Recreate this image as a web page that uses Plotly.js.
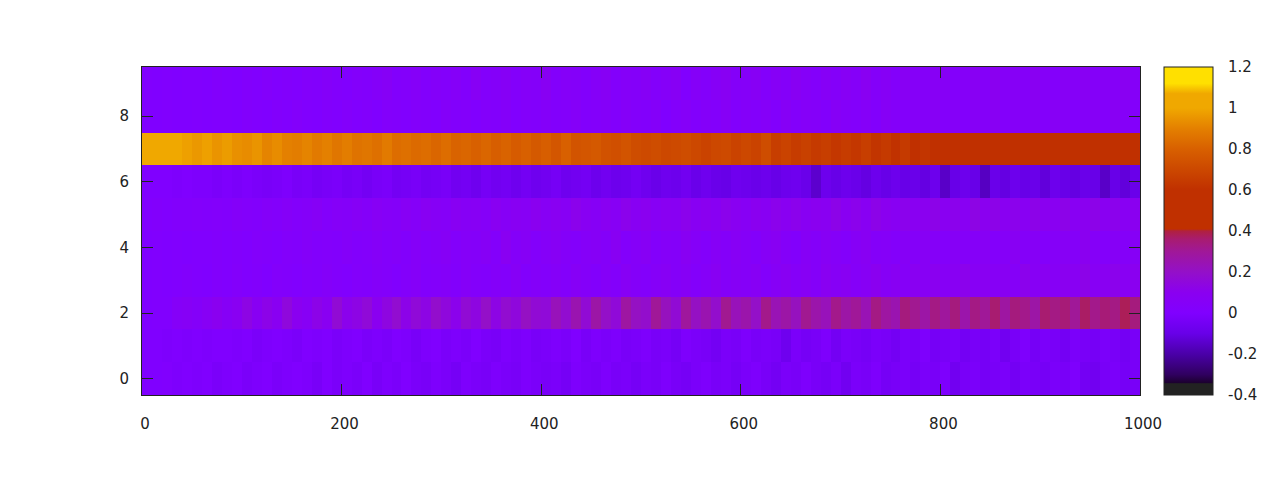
<!DOCTYPE html>
<html><head><meta charset="utf-8">
<script src="https://cdn.plot.ly/plotly-3.0.1.min.js"></script>
<style>html,body{margin:0;padding:0;background:#fff}</style></head>
<body><div id="chart" style="width:1280px;height:480px"></div>
<script>
const row0=[.00,.00,.01,-.01,.00,-.01,.00,-.02,-.01,.00,-.02,-.01,.00,-.02,-.01,.00,-.01,-.03,.00,-.02,-.01,-.02,.00,-.03,-.01,-.02,.00,-.02,-.03,-.01,-.02,-.04,-.01,-.02,-.03,-.01,-.02,-.03,-.01,-.02,-.03,-.02,-.04,-.01,-.02,-.03,-.01,-.03,-.02,-.04,-.02,-.03,-.01,-.03,-.04,-.02,-.01,-.03,-.02,-.04,-.02,-.01,-.03,-.05,-.02,-.03,-.01,-.03,-.04,-.02,-.06,-.02,-.03,-.01,-.04,-.03,-.02,-.04,-.02,-.03,-.01,-.06,-.03,-.02,-.04,-.03,-.02,-.05,-.02,-.03,-.04,-.02,-.03,-.01,-.05,-.06,-.03,-.02,-.04,-.03];
const row1=[.00,.00,-.01,.00,-.01,.00,-.01,.00,.00,-.01,.00,-.02,-.01,.00,-.01,-.02,.00,-.01,.00,-.02,-.01,.00,-.02,-.01,-.02,.00,-.01,-.03,-.01,.00,-.02,-.01,-.02,.00,-.02,-.03,-.01,-.02,-.01,-.03,-.02,-.01,-.02,.00,-.03,-.01,-.02,-.01,-.03,-.02,-.01,-.03,-.02,-.04,-.01,-.02,-.03,-.05,-.02,-.03,-.01,-.03,-.02,-.03,-.07,-.02,-.04,-.03,-.01,-.05,-.02,-.03,-.04,-.02,-.03,-.05,-.02,-.03,-.01,-.04,-.03,-.02,-.05,-.03,-.04,-.02,-.06,-.03,-.01,-.04,-.02,-.03,-.05,-.02,-.03,-.04,-.02,-.03,-.05,-.03];
const row2=[.00,.01,.01,.05,.06,.04,.07,.10,.06,.09,.13,.08,.12,.09,.15,.10,.07,.12,.09,.17,.11,.13,.16,.10,.14,.18,.12,.16,.13,.19,.15,.11,.17,.14,.20,.13,.18,.15,.21,.17,.16,.23,.18,.25,.17,.27,.20,.16,.28,.21,.19,.30,.22,.17,.29,.21,.25,.19,.31,.23,.26,.20,.32,.24,.27,.22,.31,.26,.23,.32,.27,.30,.24,.33,.28,.25,.34,.31,.27,.33,.29,.34,.26,.33,.30,.36,.28,.34,.32,.27,.36,.33,.35,.30,.37,.32,.35,.33,.38,.34];
const row3=[.00,.01,.00,.01,.02,.01,.00,.02,.01,.03,.01,.02,.00,.03,.02,.01,.03,.02,.04,.02,.01,.03,.02,.04,.03,.01,.03,.05,.02,.03,.04,.02,.05,.03,.02,.04,.03,.06,.02,.04,.03,.05,.03,.06,.04,.02,.05,.03,.07,.04,.03,.05,.07,.04,.06,.03,.05,.08,.04,.06,.05,.07,.03,.06,.08,.05,.07,.04,.09,.06,.08,.05,.07,.10,.06,.08,.05,.09,.07,.10,.06,.08,.11,.07,.09,.06,.08,.05,.11,.07,.09,.06,.10,.08,.12,.07,.09,.11,.08,.10];
const row4=[.00,.01,.00,.01,.00,.01,.01,.02,.01,.02,.01,.03,.02,.01,.03,.02,.04,.02,.03,.02,.04,.02,.03,.05,.03,.04,.02,.05,.03,.04,.06,.03,.05,.04,.06,.03,.09,.04,.06,.03,.05,.07,.04,.03,.05,.06,.04,.08,.03,.05,.07,.03,.05,.04,.08,.05,.03,.06,.04,.07,.05,.03,.06,.08,.04,.02,.06,.04,.07,.05,.03,.06,.08,.04,.05,.03,.06,.04,.07,.05,.03,.06,.04,.05,.07,.03,.05,.08,.04,.06,.03,.05,.07,.04,.10,.05,.03,.06,.04,.06];
const row5=[.01,.02,.01,.02,.02,.03,.02,.03,.02,.04,.03,.02,.04,.03,.05,.03,.04,.06,.03,.05,.04,.06,.04,.07,.05,.04,.07,.05,.08,.06,.05,.08,.06,.07,.05,.09,.06,.08,.07,.10,.07,.09,.07,.11,.08,.06,.09,.07,.11,.08,.10,.07,.09,.08,.11,.08,.10,.08,.11,.09,.07,.10,.08,.11,.09,.11,.08,.10,.09,.12,.09,.11,.08,.12,.10,.08,.11,.09,.10,.12,.09,.11,.08,.13,.10,.12,.09,.11,.08,.12,.10,.09,.12,.08,.10,.12,.09,.11,.08,.10];
const row6=[.00,.00,.00,-.01,.00,-.01,-.01,-.02,-.01,-.02,-.01,-.02,-.03,-.02,-.01,-.03,-.02,-.04,-.03,-.02,-.04,-.03,-.05,-.03,-.02,-.05,-.04,-.03,-.05,-.04,-.03,-.06,-.05,-.07,-.04,-.06,-.05,-.07,-.05,-.07,-.06,-.04,-.07,-.06,-.05,-.08,-.06,-.08,-.07,-.05,-.07,-.09,-.07,-.08,-.06,-.09,-.07,-.09,-.10,-.07,-.08,-.09,-.08,-.10,-.08,-.07,-.09,-.14,-.08,-.10,-.08,-.09,-.11,-.08,-.10,-.08,-.10,-.09,-.11,-.08,-.15,-.10,-.08,-.10,-.16,-.09,-.11,-.08,-.10,-.09,-.12,-.08,-.10,-.11,-.09,-.10,-.15,-.10,-.12,-.09];
const row7=[1.00,1.00,1.00,1.00,.98,.96,.98,.95,.97,.94,.93,.95,.91,.93,.90,.89,.91,.88,.90,.87,.89,.86,.87,.85,.88,.84,.85,.83,.84,.82,.84,.81,.82,.80,.82,.79,.81,.78,.80,.77,.79,.76,.80,.75,.76,.77,.74,.73,.75,.72,.71,.72,.70,.71,.72,.70,.68,.70,.71,.68,.70,.68,.72,.66,.68,.65,.67,.64,.66,.63,.65,.63,.66,.62,.64,.61,.64,.60,.62,.59,.60,.58,.60,.57,.58,.56,.58,.56,.55,.57,.55,.56,.55,.55,.54,.55,.55,.54,.55,.54];
const row8=[.00,.00,.01,.00,.00,.01,.00,.01,.01,.00,.02,.01,.00,.02,.01,.03,.01,.00,.02,.01,.03,.01,.02,.00,.03,.02,.01,.03,.02,.01,.04,.02,.03,.01,.03,.02,.04,.01,.03,.02,.04,.02,.03,.05,.02,.03,.04,.02,.05,.03,.02,.04,.00,.03,.05,.02,.04,.03,.06,.02,.04,.03,.05,.02,.06,.03,.05,.04,.02,.06,.04,.03,.05,.02,.06,.04,.03,.05,.04,.07,.03,.05,.02,.06,.04,.08,.03,.05,.04,.06,.03,.07,.05,.02,.04,.06,.03,.08,.05,.03];
const row9=[.01,.00,.01,.00,.01,.01,.00,.02,.01,.00,.02,.01,.03,.01,.02,.01,.03,.02,.04,.02,.01,.03,.02,.04,.06,.02,.03,.05,.02,.04,.03,.05,.02,.07,.03,.04,.06,.03,.05,.04,.08,.03,.05,.04,.02,.05,.07,.03,.05,.04,.06,.03,.05,.07,.01,.05,.03,.06,.08,.04,.05,.07,.03,.06,.04,.08,.05,.03,.06,.04,.07,.05,.09,.04,.06,.03,.08,.05,.04,.07,.06,.03,.05,.08,.04,.10,.05,.06,.04,.09,.05,.03,.07,.05,.08,.04,.06,.05,.09,.05];

const zRows=[row0,row1,row2,row3,row4,row5,row6,row7,row8,row9];
const zMin=-0.4, zMax=1.2;
const paletteValues=[-0.4,-0.345,-0.34,-0.3,-0.2,-0.1,0,0.1,0.2,0.3,0.36,0.40,0.41,0.6,0.7,0.8,0.9,1.0,1.07,1.12,1.2];
const paletteColors=['#222222','#222222','#1c0030','#300060','#4a00a8','#6800e8','#8000ff','#8a00f0','#9410c8','#a01898','#a81c70','#b02040','#c03000','#c03000','#cc4800','#d86000','#e48000','#f0a800','#f0a800','#ffe000','#ffe000'];
const barTicks=[-0.4,-0.2,0,0.2,0.4,0.6,0.8,1,1.2];
const xTicks=[0,200,400,600,800,1000];
const yTicks=[0,2,4,6,8];

const ink='#222222';
const fontFace={family:'"DejaVu Sans", sans-serif',size:15,color:ink};
const plotW=998;
const colorscale=paletteValues.map((v,i)=>[(v-zMin)/(zMax-zMin),paletteColors[i]]);
const barLeft=1+24/plotW;
const barRight=barLeft+49/plotW;

const trace={type:'heatmap',z:zRows,x0:5,dx:10,y0:0,dy:1,zmin:zMin,zmax:zMax,colorscale:colorscale,zsmooth:false,
  colorbar:{thickness:49,thicknessmode:'pixels',len:1,lenmode:'fraction',x:barLeft,xanchor:'left',xpad:0,y:0.5,yanchor:'middle',ypad:0,
    outlinecolor:ink,outlinewidth:1,tickmode:'array',tickvals:barTicks,ticktext:barTicks.map(String),ticks:'outside',ticklen:12,tickwidth:1,tickcolor:'rgba(0,0,0,0)',tickfont:fontFace,
    bordercolor:'rgba(0,0,0,0)',borderwidth:0}};

const barTickShapes=barTicks.slice(1,-1).flatMap(v=>{
  const f=(v-zMin)/(zMax-zMin);
  return [[barLeft,barLeft+8/plotW],[barRight-8/plotW,barRight]].map(e=>({type:'line',xref:'paper',yref:'paper',x0:e[0],x1:e[1],y0:f,y1:f,line:{color:ink,width:1}}));
});

const layout={width:1280,height:480,paper_bgcolor:'#fff',plot_bgcolor:'#fff',font:fontFace,showlegend:false,
  margin:{l:142,r:140,t:67,b:85,pad:0},
  xaxis:{range:[0,1000],tickmode:'array',tickvals:xTicks,ticktext:xTicks.map(String),ticks:'inside',ticklen:11,tickwidth:1,tickcolor:ink,showline:true,linecolor:ink,linewidth:1,mirror:'ticks',showgrid:false,zeroline:false,tickfont:fontFace,ticklabelstandoff:15,ticklabelshift:3},
  yaxis:{range:[-0.5,9.5],tickmode:'array',tickvals:yTicks,ticktext:yTicks.map(String),ticks:'inside',ticklen:11,tickwidth:1,tickcolor:ink,showline:true,linecolor:ink,linewidth:1,mirror:'ticks',showgrid:false,zeroline:false,tickfont:fontFace,ticklabelstandoff:9},
  shapes:barTickShapes};
Plotly.newPlot('chart',[trace],layout,{displayModeBar:false,staticPlot:true});
</script></body></html>
